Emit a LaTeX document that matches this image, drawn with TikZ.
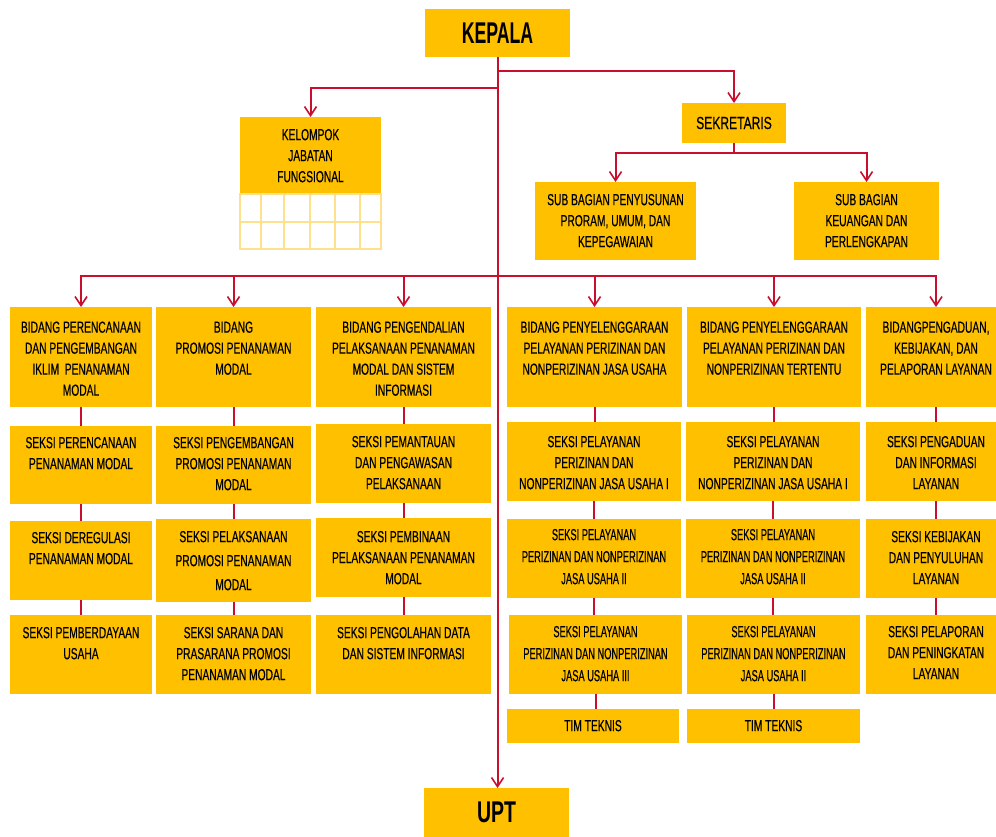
\documentclass[tikz,border=0pt]{standalone}
\usepackage{fontspec}
\setmainfont{Liberation Sans}
\newfontfamily\nf{Liberation Sans}[FakeStretch=0.64, FakeBold=0.4]
\newfontfamily\nnf{Liberation Sans}[FakeStretch=0.58, FakeBold=0.4]
\newfontfamily\skf{Liberation Sans}[FakeStretch=0.69, FakeBold=0.4]
\newfontfamily\kf{Liberation Sans}[FakeStretch=0.59]
\newfontfamily\uf{Liberation Sans}[FakeStretch=0.65]
\usetikzlibrary{arrows.meta}
\definecolor{gold}{HTML}{FFC000}
\definecolor{lnc}{HTML}{C8102E}
\definecolor{gridc}{HTML}{FFE08C}
\tikzset{
  box/.style={fill=gold, draw=none, inner sep=0pt, outer sep=0pt, anchor=north west},
  txt/.style={inner sep=0pt, outer sep=0pt, align=center, anchor=north, text=black, font=\fontsize{16}{21}\nf},
  narrow/.style={font=\fontsize{16}{22}\nnf},
  ln/.style={draw=lnc, line width=2pt},
  arr/.style={ln, -{Straight Barb[length=9pt,width=12pt,line width=1.6pt]}}
}
% name, x1, y1, x2, y2, offset, style, text
\newcommand\obox[8]{%
  \node[box, minimum width={(#4-#2)*1pt}, minimum height={(#5-#3)*1pt}] (#1) at (#2,#3) {};
  \node[txt, #7] (#1t) at ([yshift=-#6pt]#1.north) {#8};
}
% centred text: name, x1, y1, x2, y2, font, text
\newcommand\cbox[7]{%
  \node[box, minimum width={(#4-#2)*1pt}, minimum height={(#5-#3)*1pt}, align=center, font=#6] (#1) at (#2,#3) {#7};
}
\begin{document}
\begin{tikzpicture}[x=1pt, y=-1pt]
\fill[white] (0,0) rectangle (996,837);
\path[use as bounding box, clip] (0,0) rectangle (996,837);

% top
\cbox{kep}{425}{9}{570}{57}{\fontsize{30}{32}\kf\bfseries}{KEPALA}
\cbox{upt}{424}{788}{569}{837}{\fontsize{30}{32}\uf\bfseries}{UPT}
\cbox{sek}{682}{103}{786}{143}{\fontsize{17.5}{20}\skf}{SEKRETARIS}

% kelompok jabatan fungsional
\obox{kel}{240}{117}{381}{194}{12}{}{KELOMPOK\\JABATAN\\FUNGSIONAL}
\fill[white] (240,194) rectangle (381,249);
\draw[gridc, line width=1.3pt] (240,194) rectangle (381,249);
\draw[gridc, line width=1.3pt] (240,222) -- (381,222);
\foreach \gx in {261,284,310,335,360} \draw[gridc, line width=1.3pt] (\gx,194) -- (\gx,249);

% sub bagian
\obox{sb1}{535}{182}{696}{260}{12}{}{SUB BAGIAN PENYUSUNAN\\PRORAM, UMUM, DAN\\KEPEGAWAIAN}
\obox{sb2}{794}{182}{939}{260}{12}{}{SUB BAGIAN\\KEUANGAN DAN\\PERLENGKAPAN}

% bidang
\obox{b1}{10}{307}{152}{407}{14.5}{}{BIDANG PERENCANAAN\\DAN PENGEMBANGAN\\IKLIM\ \ PENANAMAN\\MODAL}
\obox{b2}{156}{307}{311}{407}{14.5}{}{BIDANG\\PROMOSI PENANAMAN\\MODAL}
\obox{b3}{316}{307}{491}{407}{14.5}{}{BIDANG PENGENDALIAN\\PELAKSANAAN PENANAMAN\\MODAL DAN SISTEM\\INFORMASI}
\obox{b4}{507}{307}{682}{407}{14.5}{}{BIDANG PENYELENGGARAAN\\PELAYANAN PERIZINAN DAN\\NONPERIZINAN JASA USAHA}
\obox{b5}{687}{307}{861}{407}{14.5}{}{BIDANG PENYELENGGARAAN\\PELAYANAN PERIZINAN DAN\\NONPERIZINAN TERTENTU}
\obox{b6}{866}{307}{1006}{407}{14.5}{}{BIDANGPENGADUAN,\\KEBIJAKAN, DAN\\PELAPORAN LAYANAN}

% column 1
\obox{s11}{10}{426}{152}{504}{11}{}{SEKSI PERENCANAAN\\PENANAMAN MODAL}
\obox{s12}{10}{521}{152}{600}{11}{}{SEKSI DEREGULASI\\PENANAMAN MODAL}
\obox{s13}{10}{615}{152}{694}{12}{}{SEKSI PEMBERDAYAAN\\USAHA}
% column 2
\obox{s21}{156}{426}{311}{504}{11}{}{SEKSI PENGEMBANGAN\\PROMOSI PENANAMAN\\MODAL}
\obox{s22}{156}{519}{311}{602}{12}{font=\fontsize{16}{24}\nf}{SEKSI PELAKSANAAN\\PROMOSI PENANAMAN\\MODAL}
\obox{s23}{156}{615}{311}{694}{12}{}{SEKSI SARANA DAN\\PRASARANA PROMOSI\\PENANAMAN MODAL}
% column 3
\obox{s31}{316}{424}{491}{503}{12}{}{SEKSI PEMANTAUAN\\DAN PENGAWASAN\\PELAKSANAAN}
\obox{s32}{316}{518}{491}{597}{13}{}{SEKSI PEMBINAAN\\PELAKSANAAN PENANAMAN\\MODAL}
\obox{s33}{316}{615}{491}{694}{12}{}{SEKSI PENGOLAHAN DATA\\DAN SISTEM INFORMASI}
% column 4
\obox{s41}{507}{422}{681}{501}{14}{}{SEKSI PELAYANAN\\PERIZINAN DAN\\NONPERIZINAN JASA USAHA I}
\obox{s42}{507}{519}{681}{598}{10}{narrow}{SEKSI PELAYANAN\\PERIZINAN DAN NONPERIZINAN\\JASA USAHA II}
\obox{s43}{509}{615}{682}{694}{11}{narrow}{SEKSI PELAYANAN\\PERIZINAN DAN NONPERIZINAN\\JASA USAHA III}
\obox{t4}{507}{709}{679}{743}{11}{}{TIM TEKNIS}
% column 5
\obox{s51}{686}{422}{860}{501}{14}{}{SEKSI PELAYANAN\\PERIZINAN DAN\\NONPERIZINAN JASA USAHA I}
\obox{s52}{686}{519}{860}{598}{10}{narrow}{SEKSI PELAYANAN\\PERIZINAN DAN NONPERIZINAN\\JASA USAHA II}
\obox{s53}{687}{615}{860}{694}{11}{narrow}{SEKSI PELAYANAN\\PERIZINAN DAN NONPERIZINAN\\JASA USAHA II}
\obox{t5}{687}{709}{860}{743}{11}{}{TIM TEKNIS}
% column 6
\obox{s61}{866}{422}{1006}{501}{14}{}{SEKSI PENGADUAN\\DAN INFORMASI\\LAYANAN}
\obox{s62}{866}{519}{1006}{598}{12}{}{SEKSI KEBIJAKAN\\DAN PENYULUHAN\\LAYANAN}
\obox{s63}{866}{615}{1006}{694}{11}{}{SEKSI PELAPORAN\\DAN PENINGKATAN\\LAYANAN}

% connectors
\coordinate (r1) at (497,71);
\coordinate (r2) at (497,88);
\coordinate (sj) at (734,153);
\coordinate (bus) at (497,276);
\draw[arr] (kep.south) -- (kep.south |- upt.north);
\draw[arr] (r1) -| (sek.north);
\draw[arr] (r2) -| (kel.north);
\draw[ln] (sek.south) -- (sj);
\draw[arr] (sj) -| (sb1.north);
\draw[arr] (sj) -| (sb2.north);
\foreach \b in {b1,b2,b3,b4,b5,b6} \draw[arr] (bus) -| (\b.north);
\foreach \a/\b in {b1/s11,s11/s12,s12/s13,b2/s21,s21/s22,s22/s23,b3/s31,s31/s32,s32/s33,
  b4/s41,s41/s42,s42/s43,s43/t4,b5/s51,s51/s52,s52/s53,s53/t5,b6/s61,s61/s62,s62/s63}
  \draw[ln] (\a.south) -- (\a.south |- \b.north);
\end{tikzpicture}
\end{document}
